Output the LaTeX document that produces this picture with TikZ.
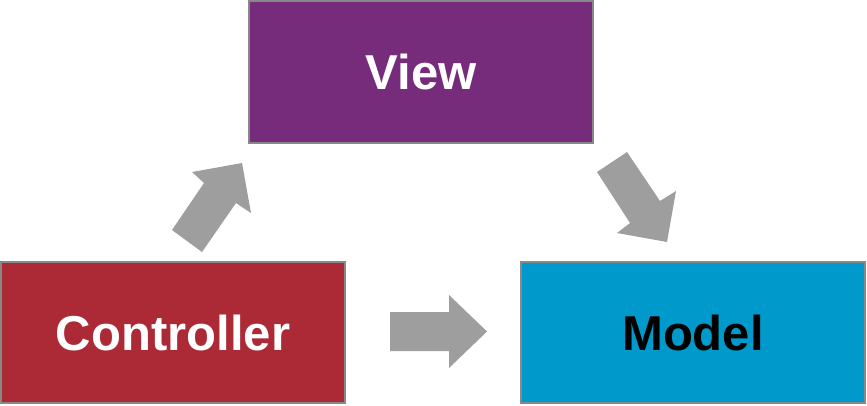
\documentclass[tikz,border=0pt]{standalone}
\usepackage{fontspec}
\setmainfont{Liberation Sans}
\definecolor{viewpurple}{HTML}{772B7B}
\definecolor{ctrlred}{HTML}{AC2A36}
\definecolor{modelblue}{HTML}{0099CB}
\definecolor{arrowgray}{HTML}{9E9E9E}
\definecolor{bordergray}{HTML}{888888}
\begin{document}
\begin{tikzpicture}[x=1pt,y=-1pt,
  mvcbox/.style={draw=bordergray, line width=2pt, minimum width=344pt, minimum height=141pt, inner sep=0pt, font=\fontsize{49}{57}\selectfont\bfseries},
  blockarrow/.style={fill=arrowgray}]
\useasboundingbox (0,0) rectangle (867,405);
\node[mvcbox, fill=viewpurple, text=white, minimum height=142pt] (view) at (421,72) {View};
\node[mvcbox, fill=ctrlred, text=white] (controller) at (173,332.5) {Controller};
\node[mvcbox, fill=modelblue, text=black] (model) at (693,332.5) {Model};
% controller -> view
\fill[blockarrow] (172,230) -- (204,183) -- (192,172) -- (242,163) -- (251,213) -- (236,203) -- (202,252) -- cycle;
% view -> model
\fill[blockarrow] (627,152) -- (660,201) -- (676,191) -- (667,242) -- (617,233) -- (630,223) -- (597,172) -- cycle;
% controller -> model
\fill[blockarrow] (390,312) -- (449,312) -- (449,295) -- (487,331.5) -- (449,368) -- (449,351) -- (390,351) -- cycle;
\end{tikzpicture}
\end{document}
